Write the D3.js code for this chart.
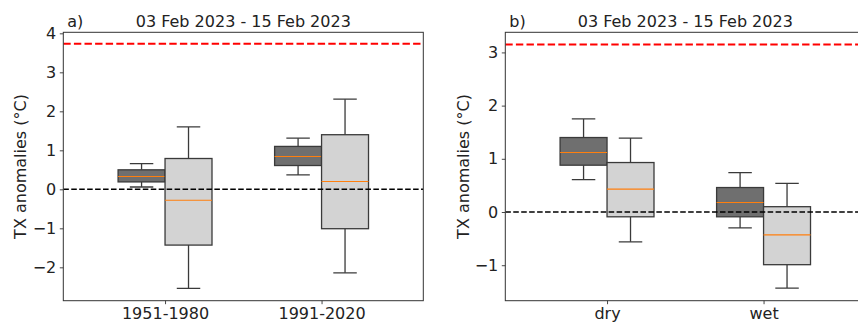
<!DOCTYPE html>
<html>
<head>
<meta charset="utf-8">
<script src="https://cdn.jsdelivr.net/npm/d3@7"></script>
<style>
  html, body { margin: 0; padding: 0; background: #fff; }
  svg { display: block; }
  text { font-family: "DejaVu Sans", sans-serif; fill: #222; }
</style>
</head>
<body>
<svg id="chart" width="858" height="323"></svg>
<script>
// ---------- DATA ----------
const title = "03 Feb 2023 - 15 Feb 2023";
const yLabel = "TX anomalies (°C)";

// Panel a
const catsA = ["1951-1980", "1991-2020"];
// [lowerWhisker, Q1, median, Q3, upperWhisker]
const darkA  = [[0.06, 0.19, 0.33, 0.50, 0.66], [0.37, 0.61, 0.84, 1.10, 1.31]];
const lightA = [[-2.54, -1.43, -0.28, 0.79, 1.60], [-2.14, -1.01, 0.20, 1.40, 2.31]];
const refA = 3.73;
const yTicksA = [-2, -1, 0, 1, 2, 3, 4];
const yDomainA = [-2.856, 4.026];

// Panel b
const catsB = ["dry", "wet"];
const darkB  = [[0.61, 0.88, 1.12, 1.40, 1.75], [-0.30, -0.09, 0.18, 0.46, 0.74]];
const lightB = [[-0.56, -0.09, 0.43, 0.93, 1.39], [-1.43, -0.99, -0.43, 0.10, 0.54]];
const refB = 3.15;
const yTicksB = [-1, 0, 1, 2, 3];
const yDomainB = [-1.667, 3.378];

// ---------- DRAW ----------
const svg = d3.select("#chart");
const plotTop = 32.3, plotBottom = 300.7;

function panel(opts) {
  const { left, right, cats, dark, light, ref, yTicks, yDomain, tag, labelX } = opts;
  const g = svg.append("g");
  const x = d3.scaleLinear().domain([0.35, 2.65]).range([left, right]);
  const y = d3.scaleLinear().domain(yDomain).range([plotBottom, plotTop]);
  const bw = 0.3;

  const clipId = "clip" + tag;
  svg.append("clipPath").attr("id", clipId)
    .append("rect").attr("x", left).attr("y", plotTop).attr("width", right - left).attr("height", plotBottom - plotTop);

  const plot = g.append("g").attr("clip-path", `url(#${clipId})`);

  function drawBox(stats, center, fill) {
    const [lo, q1, med, q3, hi] = stats;
    const bx = plot.append("g");
    const x0 = x(center - bw / 2), x1 = x(center + bw / 2);
    const xc = x(center);
    const capHalf = (x1 - x0) / 4;
    const stroke = "#3a3a3a", sw = 1.3;
    bx.append("line").attr("x1", xc).attr("x2", xc).attr("y1", y(q3)).attr("y2", y(hi))
      .attr("stroke", stroke).attr("stroke-width", sw);
    bx.append("line").attr("x1", xc).attr("x2", xc).attr("y1", y(q1)).attr("y2", y(lo))
      .attr("stroke", stroke).attr("stroke-width", sw);
    [lo, hi].forEach(v => {
      bx.append("line").attr("x1", xc - capHalf).attr("x2", xc + capHalf).attr("y1", y(v)).attr("y2", y(v))
        .attr("stroke", stroke).attr("stroke-width", sw);
    });
    bx.append("rect").attr("x", x0).attr("y", y(q3)).attr("width", x1 - x0).attr("height", y(q1) - y(q3))
      .attr("fill", fill).attr("stroke", stroke).attr("stroke-width", sw);
    bx.append("line").attr("x1", x0).attr("x2", x1).attr("y1", y(med)).attr("y2", y(med))
      .attr("stroke", "#ff7f0e").attr("stroke-width", 1.1);
  }

  cats.forEach((c, i) => {
    drawBox(dark[i], i + 1 - bw / 2, "#6f6f6f");
    drawBox(light[i], i + 1 + bw / 2, "#d3d3d3");
  });

  plot.append("line").attr("x1", left).attr("x2", right).attr("y1", y(0)).attr("y2", y(0))
    .attr("stroke", "#000").attr("stroke-width", 1.5).attr("stroke-dasharray", "5.55,2.4");
  plot.append("line").attr("x1", left).attr("x2", right).attr("y1", y(ref)).attr("y2", y(ref))
    .attr("stroke", "#ff0000").attr("stroke-width", 2).attr("stroke-dasharray", "7.4,3.2");

  g.append("rect").attr("x", left).attr("y", plotTop).attr("width", right - left).attr("height", plotBottom - plotTop)
    .attr("fill", "none").attr("stroke", "#333").attr("stroke-width", 1);

  const yAxis = d3.axisLeft(y).tickValues(yTicks).tickSize(3.5).tickPadding(3.5)
    .tickFormat(d => d3.format("d")(d).replace("-", "\u2212"));
  const ya = g.append("g").attr("transform", `translate(${left},0)`).call(yAxis);
  ya.select(".domain").remove();
  ya.selectAll(".tick line").attr("stroke", "#333").attr("stroke-width", 0.9);
  ya.selectAll(".tick text").attr("font-size", 16).attr("font-family", "DejaVu Sans, sans-serif").attr("fill", "#222");

  const xAxis = d3.axisBottom(x).tickValues(cats.map((c, i) => i + 1)).tickSize(3.5).tickPadding(3.5)
    .tickFormat((d, i) => cats[i]);
  const xa = g.append("g").attr("transform", `translate(0,${plotBottom})`).call(xAxis);
  xa.select(".domain").remove();
  xa.selectAll(".tick line").attr("stroke", "#333").attr("stroke-width", 0.9);
  xa.selectAll(".tick text").attr("font-size", 16).attr("font-family", "DejaVu Sans, sans-serif").attr("fill", "#222");

  g.append("text").attr("x", (left + right) / 2).attr("y", 26.5).attr("text-anchor", "middle")
    .attr("font-size", 16).text(title);
  g.append("text").attr("x", left + 4).attr("y", 26.5).attr("font-size", 16).text(tag + ")");

  g.append("text").attr("transform", `translate(${labelX},${(plotTop + plotBottom) / 2}) rotate(-90)`)
    .attr("text-anchor", "middle").attr("dominant-baseline", "central").attr("font-size", 16).text(yLabel);
}

panel({ left: 63.3, right: 423.3, cats: catsA, dark: darkA, light: lightA, ref: refA,
        yTicks: yTicksA, yDomain: yDomainA, tag: "a", labelX: 20 });
panel({ left: 505.3, right: 865.3, cats: catsB, dark: darkB, light: lightB, ref: refB,
        yTicks: yTicksB, yDomain: yDomainB, tag: "b", labelX: 463 });
</script>
</body>
</html>
